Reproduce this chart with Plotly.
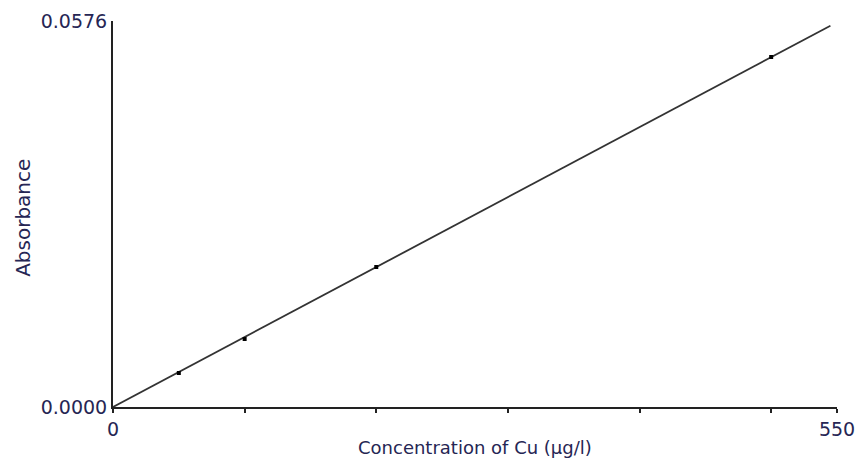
import plotly.graph_objects as go

# Calibration standards
conc = [50, 100, 200, 500]
absorb = [0.00507, 0.01015, 0.02089, 0.05223]

# Calibration line endpoints
fit_conc = [0, 545]
fit_abs = [0.0, 0.0569]

x_tickvals = [0, 100, 200, 300, 400, 500, 550]
x_ticktext = ["0", "", "", "", "", "", "550"]
y_tickvals = [0.0, 0.0576]
y_ticktext = ["0.0000", "0.0576"]

x_title = "Concentration of Cu (µg/l)"
y_title = "Absorbance"

txt = "#262654"
font_family = "DejaVu Sans"

fig = go.Figure()
fig.add_trace(go.Scatter(x=fit_conc, y=fit_abs, mode="lines",
                         line=dict(color="#333333", width=1.8),
                         hoverinfo="skip", showlegend=False))
fig.add_trace(go.Scatter(x=conc, y=absorb, mode="markers",
                         marker=dict(color="black", size=4, symbol="square"),
                         showlegend=False))

fig.update_layout(
    width=858, height=459,
    margin=dict(l=113, r=21, t=21, b=52),
    paper_bgcolor="white", plot_bgcolor="white",
    font=dict(family=font_family, color=txt, size=18),
    xaxis=dict(range=[0, 550], tickvals=x_tickvals, ticktext=x_ticktext,
               showgrid=False, zeroline=False, showline=True,
               linecolor="#222222", linewidth=2, ticks="outside",
               ticklen=4, tickwidth=1.5, tickcolor="#222222",
               tickfont=dict(size=19, color=txt), automargin=False),
    yaxis=dict(range=[0, 0.0576], tickvals=y_tickvals, ticktext=y_ticktext,
               showgrid=False, zeroline=False, showline=True,
               linecolor="#222222", linewidth=2, ticks="",
               tickfont=dict(size=19, color=txt), automargin=False),
    annotations=[
        dict(text=x_title, xref="paper", yref="paper", x=0.5, y=0,
             yshift=-40, xanchor="center", yanchor="middle", showarrow=False,
             font=dict(size=18, color=txt)),
        dict(text=y_title, xref="paper", yref="paper", x=0, y=0.49,
             xshift=-90, xanchor="center", yanchor="middle", showarrow=False,
             textangle=-90, font=dict(size=20, color=txt)),
    ],
)

fig.write_html(
    "out.html",
    config={"displayModeBar": False},
    post_script="document.body.style.margin='0';document.body.style.overflow='hidden';",
)
